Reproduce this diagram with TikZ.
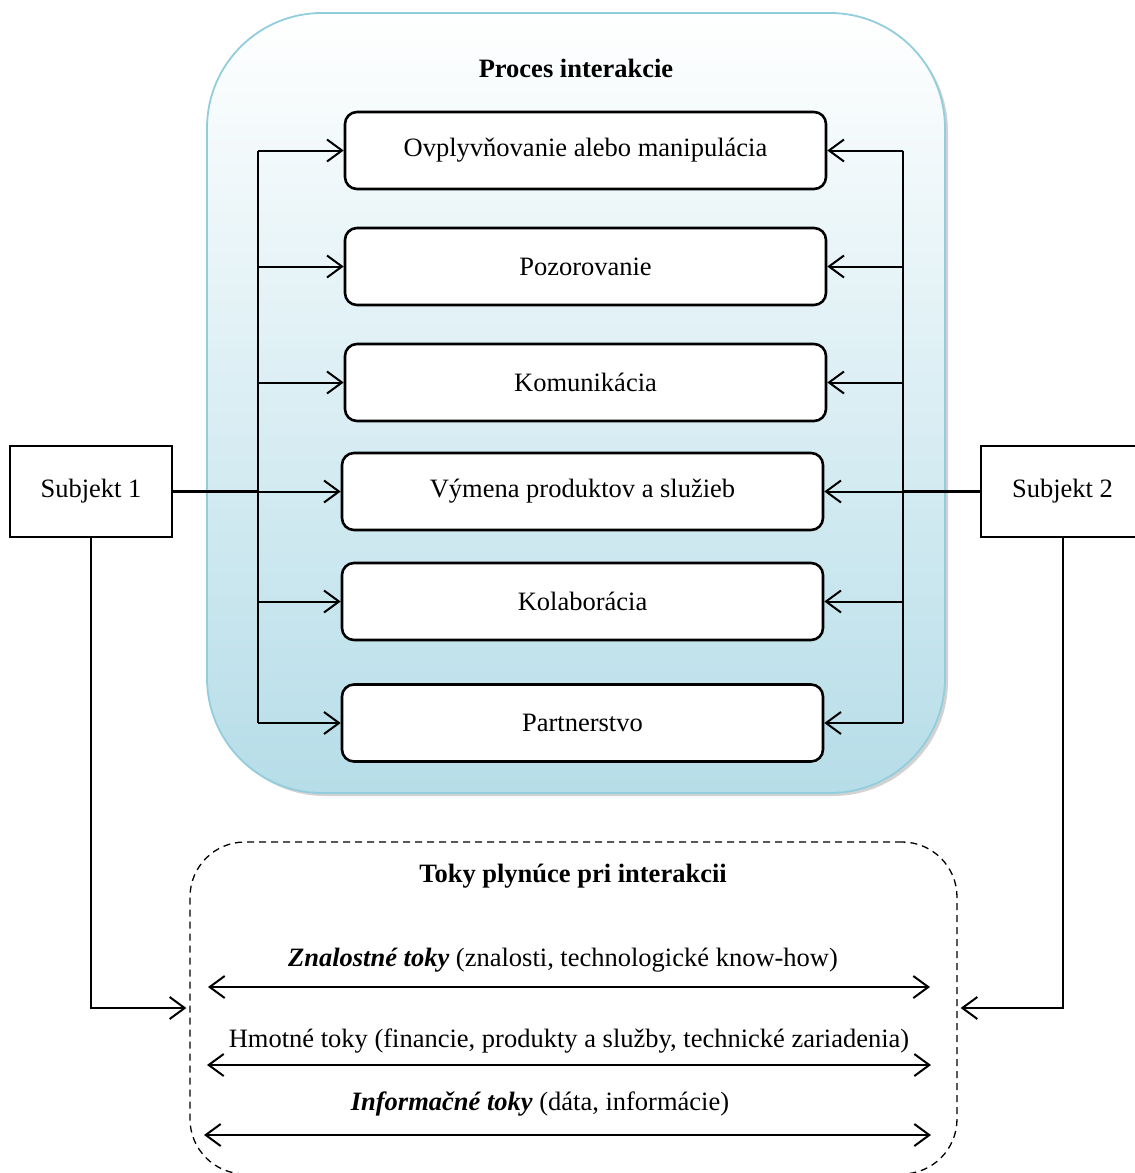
\documentclass[tikz,border=0pt]{standalone}
\usepackage{fontspec}
\setmainfont{Liberation Serif}
\usetikzlibrary{arrows.meta,shadows,calc}
\definecolor{procborder}{RGB}{146,205,221}
\definecolor{procbottom}{RGB}{182,221,232}
\begin{document}
\begin{tikzpicture}[x=1pt,y=-1pt,
  every node/.style={font=\fontsize{26.5}{31}\selectfont},
  procbox/.style={draw, line width=2.6pt, rounded corners=12pt, fill=white, minimum width=481pt, minimum height=77pt, inner sep=0pt},
  subjbox/.style={draw, line width=1.4pt, fill=white, minimum height=91pt, inner sep=0pt},
  arr/.style={line width=2pt, -{Straight Barb[length=15pt,width=22pt,line width=2pt]}},
  darr/.style={line width=2pt, {Straight Barb[length=15pt,width=22pt,line width=2pt]}-{Straight Barb[length=15pt,width=22pt,line width=2pt]}},
  bus/.style={line width=2pt},
  thick link/.style={line width=3pt},
  heading/.style={font=\fontsize{26.5}{31}\selectfont\bfseries}
]
\useasboundingbox (0,0) rectangle (1135,1173);

% big process container
\node[draw=procborder, line width=1.8pt, rounded corners=115pt,
  top color=white, bottom color=procbottom,
  drop shadow={shadow xshift=3pt, shadow yshift=-3pt, fill=gray!70, opacity=0.5},
  minimum width=738pt, minimum height=780pt, inner sep=0pt] (proc) at (576,403) {};
\node[heading] (proctitle) at (576,68) {Proces interakcie};

% inner boxes
\node[procbox] (b1) at (585.5,150.5) {Ovplyvňovanie alebo manipulácia};
\node[procbox] (b2) at (585.5,266.5) {Pozorovanie};
\node[procbox] (b3) at (585.5,382.5) {Komunikácia};
\node[procbox] (b4) at (582.5,491.5) {Výmena produktov a služieb};
\node[procbox] (b5) at (582.5,601.5) {Kolaborácia};
\node[procbox] (b6) at (582.5,723) {Partnerstvo};

% subjects
\node[subjbox, minimum width=162pt] (s1) at (91,491.5) {Subjekt 1};
\node[subjbox, minimum width=155pt] (s2) at (1058.5,491.5) {\hspace*{8pt}Subjekt 2};

% buses
\coordinate (L) at (258,0);
\coordinate (R) at (903,0);
\draw[bus] (b1.west -| L) -- (b6.west -| L);
\draw[bus] (b1.east -| R) -- (b6.east -| R);
\foreach \b in {b1,b2,b3,b4,b5,b6}{
  \draw[arr] (\b.west -| L) -- (\b.west);
  \draw[arr] (\b.east -| R) -- (\b.east);
}
\draw[thick link] (s1.east) -- (b4.west -| L);
\draw[thick link] (s2.west) -- (b4.east -| R);

% flows container
\node[draw, line width=1.3pt, dash pattern=on 7pt off 5pt, rounded corners=55pt,
  minimum width=767pt, minimum height=332pt, inner sep=0pt] (flows) at (573.5,1008) {};
\node[heading] (flowtitle) at (573,876) {Toky plynúce pri interakcii};

\node (t1) at (563,960) {\textbf{\textit{Znalostné toky}} (znalosti, technologické know-how)};
\node (t2) at (569,1041) {Hmotné toky (financie, produkty a služby, technické zariadenia)};
\node (t3) at (540,1104) {\textbf{\textit{Informačné toky}} (dáta, informácie)};
\coordinate (a1l) at (208,987);  \coordinate (a1r) at (930,987);
\coordinate (a2l) at (207,1065); \coordinate (a2r) at (931,1065);
\coordinate (a3l) at (204,1135); \coordinate (a3r) at (931,1135);
\draw[darr] (a1l) -- (a1r);
\draw[darr] (a2l) -- (a2r);
\draw[darr] (a3l) -- (a3r);

% subject to flows
\draw[arr] (s1.south) |- ($(flows.west)+(-3,0)$);
\draw[arr] ($(s2.south)+(4,0)$) |- ($(flows.east)+(3,0)$);
\end{tikzpicture}
\end{document}
